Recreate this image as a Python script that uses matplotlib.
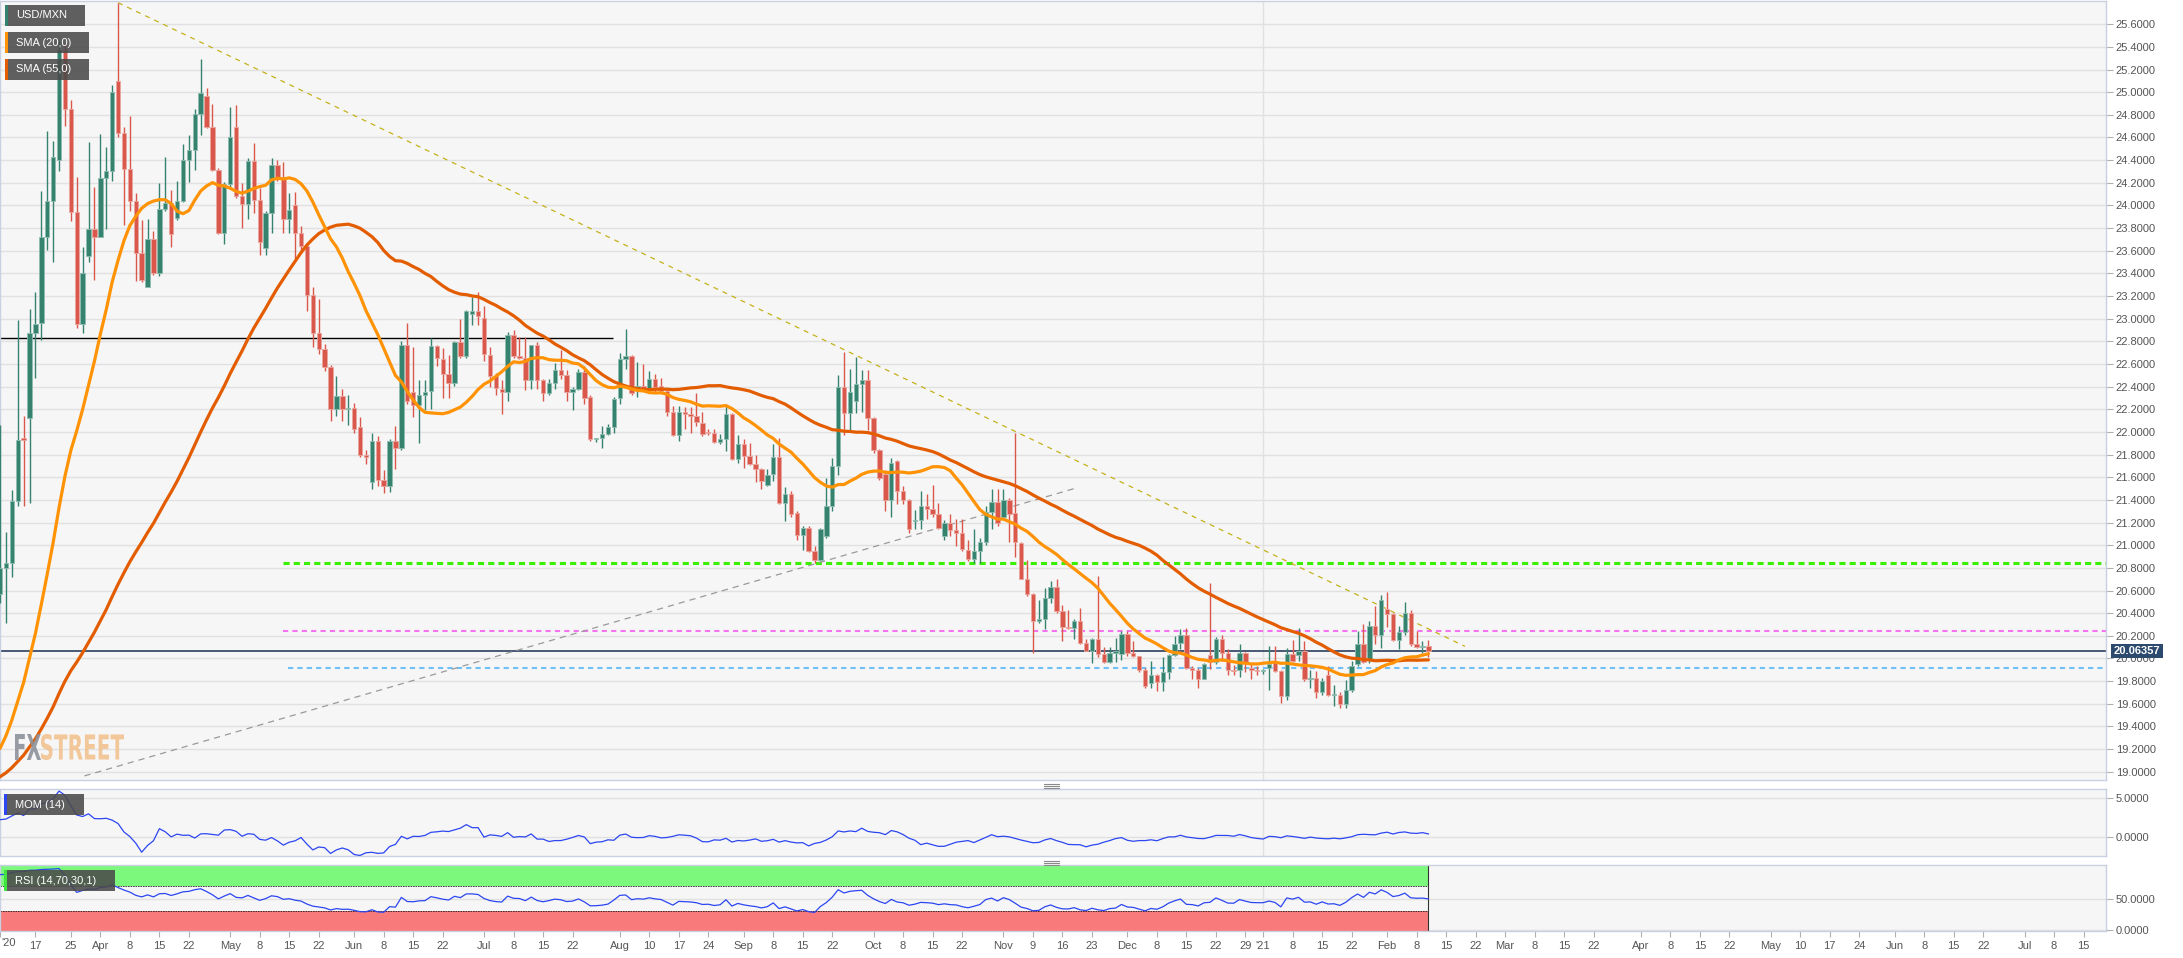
import numpy as np
import pandas as pd
import matplotlib
matplotlib.use("Agg")
import matplotlib.pyplot as plt
from matplotlib.patches import Rectangle, PathPatch
from matplotlib.lines import Line2D
from matplotlib.textpath import TextPath
from matplotlib.font_manager import FontProperties
from matplotlib.transforms import Affine2D
from matplotlib.ticker import FormatStrFormatter

plt.rcParams['font.family'] = ['Liberation Sans', 'DejaVu Sans']

# daily closes before the visible window (Dec 2019 - Mar 6 2020), used for the indicators
closes_before = [
    18.97, 18.93, 18.92, 18.92, 18.90, 18.88, 18.90, 18.93,
    18.92, 18.86, 18.92, 18.91, 18.86, 18.83, 18.76, 18.83, 18.78, 18.77,
    18.78, 18.77, 18.73, 18.65, 18.72, 18.71, 18.78, 18.79, 18.87, 18.90,
    18.83, 18.83, 18.87,
    18.84, 18.72, 18.70, 18.61, 18.72, 18.72, 18.63, 18.61, 18.62, 18.58,
    18.56, 18.61, 18.57, 18.72, 18.86, 19.20, 19.30, 19.38, 19.47, 19.62,
    19.53, 19.47, 19.49, 19.94, 20.15,
]

# USD/MXN daily candles, 2020-03-09 .. 2021-02-10
opens = [
    20.57, 20.80, 20.84, 21.39, 21.95, 22.12, 22.87, 22.96, 23.72, 24.04,
    24.40, 25.37, 24.85, 23.94, 22.95, 23.55, 23.79, 23.72, 24.24, 24.30,
    25.10, 24.64, 24.32, 24.04, 23.58, 23.28, 23.70, 23.40, 23.97, 24.02,
    23.89, 24.04, 24.40, 24.49, 24.81, 24.97, 24.69, 24.31, 23.76, 24.19,
    24.69, 24.08, 24.01, 24.39, 24.05, 23.62, 23.93, 24.36, 24.25, 23.88,
    24.00, 23.76, 23.64, 23.21, 22.87, 22.73, 22.57, 22.20, 22.32, 22.20,
    22.21, 22.04, 21.80, 21.56, 21.92, 21.58, 21.52, 21.92, 21.86, 22.77,
    22.35, 22.24, 22.33, 22.36, 22.76, 22.64, 22.51, 22.43, 22.79, 22.67,
    23.04, 23.07, 23.01, 22.68, 22.49, 22.38, 22.35, 22.86, 22.67, 22.65,
    22.46, 22.77, 22.46, 22.34, 22.43, 22.55, 22.50, 22.35, 22.38, 22.53,
    22.31, 21.94, 21.95, 21.98, 22.04, 22.30, 22.64, 22.67, 22.38, 22.41,
    22.38, 22.47, 22.41, 22.36, 22.18, 21.97, 22.18, 22.16, 22.14, 22.08,
    22.00, 21.99, 21.91, 21.94, 22.16, 21.76, 21.89, 21.79, 21.72, 21.67,
    21.53, 21.63, 21.78, 21.37, 21.45, 21.28, 21.09, 21.15, 20.95, 20.87,
    21.08, 21.35, 21.70, 22.40, 22.17, 22.27, 22.42, 22.46, 22.12, 21.84,
    21.63, 21.40, 21.74, 21.48, 21.40, 21.21, 21.22, 21.35, 21.32, 21.28,
    21.08, 21.20, 21.13, 21.11, 20.96, 20.88, 20.95, 21.03, 21.29, 21.38,
    21.25, 21.40, 21.28, 21.02, 20.70, 20.57, 20.33, 20.35, 20.53, 20.63,
    20.42, 20.28, 20.27, 20.33, 20.14, 20.07, 20.17, 20.04, 19.97, 20.05,
    20.04, 20.22, 20.05, 20.02, 19.90, 19.78, 19.85, 19.79, 19.88, 20.03,
    20.14, 20.21, 19.92, 19.90, 19.82, 20.03, 19.97, 20.17, 20.05, 19.90,
    19.90, 20.05, 19.92, 19.90, 19.89, 19.92, 19.97, 19.89, 19.67, 20.04,
    20.03, 20.07, 19.82, 19.83, 19.70, 19.85, 19.68, 19.68, 19.60, 19.72,
    19.95, 20.13, 19.99, 20.29, 20.21, 20.44, 20.39, 20.16, 20.23, 20.40,
    20.13, 20.10, 20.11,
]
highs = [
    22.06, 21.12, 21.49, 22.99, 22.14, 23.09, 23.24, 24.13, 24.66, 24.57,
    25.45, 25.43, 24.93, 24.25, 23.63, 24.56, 24.16, 24.63, 24.52, 25.06,
    25.79, 24.69, 24.79, 24.11, 23.87, 23.88, 23.77, 24.20, 24.43, 24.14,
    24.22, 24.54, 24.62, 24.85, 25.29, 25.04, 24.90, 24.33, 24.21, 24.87,
    24.89, 24.20, 24.42, 24.55, 24.15, 23.95, 24.42, 24.40, 24.38, 24.11,
    24.12, 23.82, 23.66, 23.28, 23.17, 22.78, 22.59, 22.49, 22.38, 22.33,
    22.26, 22.13, 21.84, 21.99, 21.96, 21.66, 21.94, 22.05, 22.80, 22.96,
    22.75, 22.46, 22.46, 22.83, 22.77, 22.74, 22.68, 22.80, 23.00, 23.08,
    23.19, 23.24, 23.11, 22.75, 22.52, 22.46, 22.88, 22.90, 22.84, 22.84,
    22.77, 22.79, 22.47, 22.47, 22.61, 22.72, 22.55, 22.40, 22.56, 22.58,
    22.33, 21.95, 22.05, 22.07, 22.31, 22.70, 22.91, 22.68, 22.62, 22.60,
    22.54, 22.51, 22.48, 22.37, 22.23, 22.23, 22.22, 22.22, 22.34, 22.18,
    22.03, 22.03, 21.98, 22.24, 22.17, 21.97, 21.94, 21.90, 21.80, 21.68,
    21.67, 21.89, 21.95, 21.51, 21.48, 21.30, 21.17, 21.17, 20.99, 21.15,
    21.59, 21.77, 22.50, 22.71, 22.56, 22.66, 22.55, 22.55, 22.13, 21.85,
    21.66, 21.77, 21.75, 21.52, 21.41, 21.31, 21.48, 21.45, 21.53, 21.37,
    21.22, 21.28, 21.23, 21.23, 21.05, 21.14, 21.06, 21.35, 21.50, 21.50,
    21.50, 21.42, 21.99, 21.03, 20.87, 20.58, 20.52, 20.62, 20.68, 20.70,
    20.47, 20.43, 20.35, 20.45, 20.17, 20.18, 20.73, 20.10, 20.10, 20.18,
    20.24, 20.24, 20.15, 20.02, 19.92, 19.98, 19.86, 20.01, 20.04, 20.20,
    20.26, 20.27, 19.93, 19.92, 19.96, 20.67, 20.19, 20.21, 20.08, 19.94,
    20.13, 20.06, 19.95, 19.93, 19.91, 20.11, 20.11, 19.90, 20.09, 20.16,
    20.27, 20.15, 19.90, 19.89, 19.83, 19.93, 19.77, 19.70, 19.81, 19.98,
    20.24, 20.30, 20.33, 20.46, 20.56, 20.59, 20.40, 20.29, 20.50, 20.43,
    20.24, 20.15, 20.16,
]
lows = [
    20.49, 20.31, 20.72, 21.35, 21.35, 21.37, 22.48, 22.81, 23.61, 23.50,
    24.30, 24.70, 23.86, 22.92, 22.87, 23.50, 23.34, 23.72, 23.79, 24.22,
    24.60, 23.83, 23.95, 23.33, 23.32, 23.28, 23.39, 23.38, 23.95, 23.63,
    23.87, 24.03, 24.21, 24.31, 24.62, 24.68, 24.30, 23.75, 23.66, 24.15,
    24.07, 23.80, 23.88, 23.93, 23.56, 23.56, 23.76, 24.22, 23.76, 23.76,
    23.53, 23.58, 23.07, 22.75, 22.69, 22.54, 22.10, 22.14, 22.10, 22.06,
    21.99, 21.78, 21.72, 21.50, 21.52, 21.46, 21.47, 21.67, 21.84, 22.25,
    22.13, 21.90, 22.19, 22.20, 22.58, 22.30, 22.30, 22.41, 22.65, 22.65,
    22.94, 22.94, 22.63, 22.40, 22.33, 22.16, 22.27, 22.65, 22.64, 22.37,
    22.38, 22.38, 22.27, 22.33, 22.38, 22.47, 22.27, 22.19, 22.37, 22.25,
    21.92, 21.91, 21.86, 21.97, 21.99, 22.25, 22.56, 22.33, 22.31, 22.38,
    22.38, 22.34, 22.34, 22.14, 21.96, 21.92, 22.03, 21.99, 22.05, 21.96,
    21.97, 21.90, 21.89, 21.83, 21.75, 21.73, 21.68, 21.71, 21.56, 21.50,
    21.52, 21.57, 21.36, 21.21, 21.25, 21.05, 20.96, 20.94, 20.84, 20.86,
    21.06, 21.30, 21.62, 21.97, 22.02, 22.17, 22.18, 22.02, 21.81, 21.58,
    21.30, 21.25, 21.36, 21.36, 21.11, 21.14, 21.14, 21.23, 21.25, 21.14,
    21.05, 21.08, 20.99, 20.95, 20.86, 20.84, 20.84, 21.00, 21.14, 21.17,
    21.23, 21.03, 20.90, 20.70, 20.55, 20.05, 20.31, 20.26, 20.49, 20.40,
    20.15, 20.26, 20.17, 20.13, 20.07, 19.96, 20.01, 19.96, 19.96, 19.97,
    19.99, 20.02, 20.01, 19.88, 19.74, 19.74, 19.71, 19.71, 19.82, 20.02,
    20.08, 19.91, 19.82, 19.74, 19.82, 19.91, 19.95, 19.98, 19.85, 19.85,
    19.84, 19.88, 19.82, 19.85, 19.86, 19.72, 19.88, 19.61, 19.63, 19.97,
    19.98, 19.80, 19.74, 19.65, 19.68, 19.67, 19.58, 19.56, 19.56, 19.70,
    19.93, 19.96, 19.96, 20.13, 20.09, 20.28, 20.15, 20.08, 20.21, 20.11,
    20.09, 20.05, 20.01,
]
closes = [
    20.80, 20.84, 21.39, 21.93, 21.93, 22.87, 22.95, 23.72, 24.04, 24.43,
    25.37, 24.85, 23.94, 22.95, 23.40, 23.79, 23.72, 24.24, 24.30, 25.00,
    24.64, 24.32, 24.04, 23.58, 23.34, 23.70, 23.40, 23.97, 24.02, 23.75,
    24.04, 24.40, 24.49, 24.81, 24.99, 24.69, 24.31, 23.76, 24.19, 24.60,
    24.08, 24.01, 24.39, 24.05, 23.68, 23.93, 24.36, 24.25, 23.88, 23.96,
    23.76, 23.64, 23.21, 22.87, 22.73, 22.57, 22.20, 22.32, 22.20, 22.21,
    22.03, 21.80, 21.78, 21.92, 21.58, 21.52, 21.92, 21.86, 22.77, 22.27,
    22.24, 22.33, 22.35, 22.76, 22.65, 22.51, 22.43, 22.79, 22.67, 23.07,
    23.07, 23.02, 22.69, 22.49, 22.39, 22.35, 22.86, 22.67, 22.65, 22.46,
    22.77, 22.46, 22.34, 22.43, 22.55, 22.50, 22.35, 22.38, 22.53, 22.30,
    21.94, 21.95, 21.98, 22.04, 22.29, 22.64, 22.67, 22.34, 22.41, 22.38,
    22.47, 22.40, 22.36, 22.18, 21.97, 22.18, 22.16, 22.14, 22.09, 21.98,
    21.99, 21.91, 21.94, 22.16, 21.76, 21.89, 21.79, 21.72, 21.67, 21.57,
    21.62, 21.78, 21.37, 21.45, 21.28, 21.09, 21.15, 20.95, 20.87, 21.14,
    21.35, 21.70, 22.40, 22.17, 22.35, 22.42, 22.46, 22.12, 21.84, 21.59,
    21.40, 21.73, 21.48, 21.40, 21.14, 21.22, 21.35, 21.32, 21.28, 21.15,
    21.20, 21.13, 21.11, 20.97, 20.88, 20.95, 21.03, 21.29, 21.38, 21.20,
    21.40, 21.28, 21.03, 20.70, 20.57, 20.33, 20.35, 20.53, 20.63, 20.42,
    20.28, 20.27, 20.33, 20.14, 20.07, 20.17, 20.04, 19.97, 20.05, 20.07,
    20.22, 20.05, 20.02, 19.90, 19.76, 19.85, 19.79, 19.88, 20.03, 20.13,
    20.21, 19.92, 19.90, 19.82, 19.95, 19.97, 20.17, 20.05, 19.90, 19.89,
    20.05, 19.97, 19.90, 19.89, 19.89, 19.95, 19.89, 19.67, 20.04, 19.98,
    20.07, 19.82, 19.83, 19.70, 19.80, 19.68, 19.69, 19.60, 19.72, 19.93,
    20.13, 19.97, 20.29, 20.21, 20.52, 20.39, 20.16, 20.23, 20.40, 20.13,
    20.10, 20.11, 20.06357,
]

last_price = 20.06357
level_green = 20.845
level_pink = 20.24
level_blue = 19.915
level_black = 22.83

# drawn trendlines: (bar, price) end points
trend_down = [(20.0, 25.79), (248.2, 20.107)]
trend_up = [(14.3, 18.963), (182.0, 21.50)]

tick_dates = [
    "2020-03-09", "2020-03-17", "2020-03-25", "2020-04-01", "2020-04-08", "2020-04-15", "2020-04-22",
    "2020-05-01", "2020-05-08", "2020-05-15", "2020-05-22", "2020-06-01", "2020-06-08", "2020-06-15",
    "2020-06-22", "2020-07-01", "2020-07-08", "2020-07-15", "2020-07-22", "2020-08-03", "2020-08-10",
    "2020-08-17", "2020-08-24", "2020-09-01", "2020-09-08", "2020-09-15", "2020-09-22", "2020-10-01",
    "2020-10-08", "2020-10-15", "2020-10-22", "2020-11-02", "2020-11-09", "2020-11-16", "2020-11-23",
    "2020-12-01", "2020-12-08", "2020-12-15", "2020-12-22", "2020-12-29", "2021-01-01", "2021-01-08",
    "2021-01-15", "2021-01-22", "2021-02-01", "2021-02-08", "2021-02-15", "2021-02-22", "2021-03-01",
    "2021-03-08", "2021-03-15", "2021-03-22", "2021-04-01", "2021-04-08", "2021-04-15", "2021-04-22",
    "2021-05-03", "2021-05-10", "2021-05-17", "2021-05-24", "2021-06-01", "2021-06-08", "2021-06-15",
    "2021-06-22", "2021-07-01", "2021-07-08", "2021-07-15",
]
tick_labels = [
    "", "17", "25", "Apr", "8", "15", "22",
    "May", "8", "15", "22", "Jun", "8", "15",
    "22", "Jul", "8", "15", "22", "Aug", "10",
    "17", "24", "Sep", "8", "15", "22", "Oct",
    "8", "15", "22", "Nov", "9", "16", "23",
    "Dec", "8", "15", "22", "29", "'21", "8",
    "15", "22", "Feb", "8", "15", "22", "Mar",
    "8", "15", "22", "Apr", "8", "15", "22",
    "May", "10", "17", "24", "Jun", "8", "15",
    "22", "Jul", "8", "15",
]
first_label = "'20"

GREEN = "#35826e"
RED = "#d9584b"
BG = "#f6f6f6"
GRID = "#e1e1e1"
SPINE = "#c9d0e2"
TXT = "#555555"

W, H = 2183, 958
fig = plt.figure(figsize=(W / 100, H / 100), dpi=100)
fig.patch.set_facecolor("white")


def fx(px):
    return px / W


def fy(py):
    return 1 - py / H


right = 2106 / W
ax = fig.add_axes([0, fy(780), right, 779 / H])
ax_m = fig.add_axes([0, fy(856), right, 67 / H])
ax_r = fig.add_axes([0, fy(931), right, 66 / H])

xmax = 356.8
n = len(closes)
idx = np.arange(n)
o = np.array(opens)
h = np.array(highs)
l = np.array(lows)
c = np.array(closes)

# indicators from the full close history
allc = pd.Series(closes_before + closes)
nb = len(closes_before)
sma20 = allc.rolling(20).mean().iloc[nb:].to_numpy()
sma55 = allc.rolling(55).mean().iloc[nb:].to_numpy()
mom = (allc - allc.shift(14)).iloc[nb:].to_numpy()
d = allc.diff()
gain = d.clip(lower=0).ewm(alpha=1 / 14, adjust=False).mean()
loss = (-d.clip(upper=0)).ewm(alpha=1 / 14, adjust=False).mean()
rsi = (100 - 100 / (1 + gain / loss)).iloc[nb:].to_numpy()

for a in (ax, ax_m, ax_r):
    a.set_facecolor(BG)
    a.set_xlim(0, xmax)
    for s in a.spines.values():
        s.set_color(SPINE)
        s.set_linewidth(1)
    a.yaxis.tick_right()
    a.tick_params(axis="y", direction="out", length=5, color="#b0b0b0",
                  labelcolor=TXT, labelsize=8, pad=2)
    a.yaxis.set_major_formatter(FormatStrFormatter("%.4f"))
    a.grid(axis="y", color=GRID, lw=1)
    a.set_axisbelow(True)
    a.axvline(214, color=GRID, lw=1, zorder=0)

# main price panel
ax.set_ylim(18.927, 25.805)
ax.set_yticks(np.round(np.arange(19.0, 25.61, 0.2), 1))
ax.set_xticks([])

up = c >= o
col = np.where(up, GREEN, RED)
edge = np.where(up, "#8fbdb0", "#eaa69f")
ax.vlines(idx, l, h, colors=col, lw=1, zorder=3)
ax.bar(idx, np.maximum(np.abs(c - o), 0.01), bottom=np.minimum(o, c), width=0.74,
       color=col, edgecolor=edge, linewidth=0.6, zorder=4)

ax.plot(idx, sma55, color="#e35d00", lw=2.3, zorder=5, solid_capstyle="round")
ax.plot(idx, sma20, color="#ff9305", lw=2.3, zorder=6, solid_capstyle="round")

ax.hlines(level_black, 0, 103.8, color="black", lw=1, zorder=2)
ax.axhline(last_price, color="#2d3f5e", lw=1.2, zorder=2)
ax.hlines(level_green, 48, xmax, color="#39f000", lw=2.2, linestyles=(0, (2, 1.35)), zorder=2)
ax.hlines(level_pink, 48, xmax, color="#f572f0", lw=1.5, linestyles=(0, (2.5, 2)), zorder=2)
ax.hlines(level_blue, 48.8, xmax, color="#6ec0f6", lw=1.5, linestyles=(0, (2.5, 2)), zorder=2)
(x0, y0), (x1, y1) = trend_down
ax.plot([x0, x1], [y0, y1], color="#c4b11c", lw=0.9, ls=(0, (4, 4)), zorder=2)
(x0, y0), (x1, y1) = trend_up
ax.plot([x0, x1], [y0, y1], color="#9a9a9a", lw=0.9, ls=(0, (5, 4)), zorder=2)

# momentum panel
ax_m.set_ylim(-2.52, 6.17)
ax_m.set_yticks([0, 5])
ax_m.set_xticks([])
ax_m.plot(idx, mom, color="#2b46f2", lw=0.9, zorder=3)

# rsi panel
ax_r.set_ylim(-1, 103)
ax_r.set_yticks([0, 50])
last_x = n - 1
ax_r.add_patch(Rectangle((0, 70), last_x, 33, facecolor="#7cf97c", edgecolor="none", zorder=1))
ax_r.add_patch(Rectangle((-1, -1), last_x + 1, 31, facecolor="#f87a7a", edgecolor="none", zorder=1))
ax_r.hlines([70, 30], 0, last_x, colors="#222222", lw=0.6, linestyles=(0, (2, 1)), zorder=2)
ax_r.vlines(last_x, -1, 103, colors="#333333", lw=0.8, zorder=2)
ax_r.plot(idx, rsi, color="#2b46f2", lw=0.9, zorder=3)

dates = pd.bdate_range("2020-03-09", periods=400)
tpos = dates.get_indexer(pd.to_datetime(tick_dates))
ax_r.set_xticks(tpos)
ax_r.set_xticklabels(tick_labels)
ax_r.tick_params(axis="x", direction="out", length=4, color="#b0b0b0",
                 labelcolor=TXT, labelsize=8, pad=3)
# the first label sits on the left edge of the chart
fig.text(fx(1), fy(943), first_label, color=TXT, fontsize=8, ha="left", va="center")


def label_box(x0, y0, x1, y1, strip, text, size=8):
    fig.add_artist(Rectangle((fx(x0), fy(y1)), (x1 - x0) / W, (y1 - y0) / H,
                             transform=fig.transFigure, facecolor="#4a4a4a",
                             alpha=0.88, edgecolor="none", zorder=10))
    fig.add_artist(Rectangle((fx(x0), fy(y1)), 2.5 / W, (y1 - y0) / H,
                             transform=fig.transFigure, facecolor=strip,
                             edgecolor="none", zorder=11))
    fig.text(fx(x0 + 11), fy((y0 + y1) / 2), text, color="white", fontsize=size,
             ha="left", va="center", zorder=12)


label_box(5, 5, 85, 26, GREEN, "USD/MXN")
label_box(5, 32, 89, 53, "#ff9305", "SMA (20,0)")
label_box(5, 59, 89, 80, "#e35d00", "SMA (55,0)")
label_box(4, 794, 84, 815, "#2b46f2", "MOM (14)")
label_box(4, 870, 115, 891, "#3fe43f", "RSI (14,70,30,1)")

# current price tag
fig.text(fx(2137), fy(651), f"{last_price:.5f}", color="white", fontsize=8,
         fontweight="bold", ha="center", va="center", zorder=12,
         bbox=dict(boxstyle="square,pad=0.2", fc="#2c4a6e", ec="none"))

# panel separators
for ysep in (786, 863):
    for k in (-2, 0, 2):
        fig.add_artist(Line2D([fx(1044), fx(1059)], [fy(ysep + k), fy(ysep + k)],
                              transform=fig.transFigure, color="#8a8a8a", lw=0.8))

# FXSTREET watermark
fp = FontProperties(family="DejaVu Sans", weight="bold")
for word, wx0, wx1, colr in (("FX", 15, 41, "#8d919a"), ("STREET", 41, 124, "#f2c28f")):
    tp = TextPath((0, 0), word, size=10, prop=fp)
    bb = tp.get_extents()
    sx = ((wx1 - wx0) / W) / bb.width
    sy = (26 / H) / bb.height
    tr = Affine2D().translate(-bb.x0, -bb.y0).scale(sx, sy).translate(fx(wx0), fy(760)) + fig.transFigure
    fig.add_artist(PathPatch(tp, transform=tr, facecolor=colr, edgecolor="none", alpha=0.9, zorder=9))

fig.savefig("out.png", dpi=100, facecolor="white")
